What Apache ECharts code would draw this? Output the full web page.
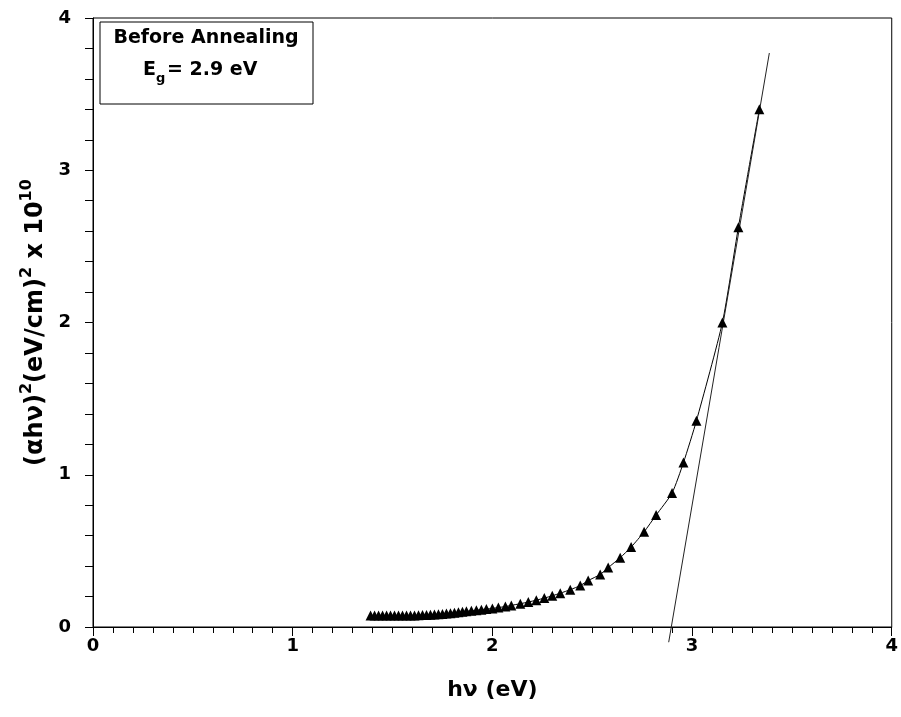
<!DOCTYPE html>
<html>
<head>
<meta charset="utf-8">
<script src="https://cdn.jsdelivr.net/npm/echarts@6/dist/echarts.min.js"></script>
<style>html,body{margin:0;padding:0;background:#fff}#c{width:901px;height:717px}</style>
</head>
<body>
<div id="c"></div>
<script>
// photon energy (eV)
var energy = [1.39,1.41,1.43,1.45,1.47,1.49,1.51,1.53,1.55,1.57,1.59,1.61,1.63,1.65,1.67,1.69,1.71,1.73,1.75,1.77,1.79,1.81,1.83,1.85,1.87,1.895,1.92,1.945,1.97,2.00,2.03,2.065,2.095,2.14,2.18,2.22,2.26,2.30,2.34,2.39,2.44,2.48,2.54,2.58,2.64,2.695,2.76,2.82,2.90,2.957,3.022,3.152,3.232,3.337];
// (alpha h nu)^2 x 1e-10
var absorb = [0.075,0.075,0.075,0.075,0.075,0.075,0.075,0.075,0.075,0.075,0.076,0.076,0.077,0.078,0.079,0.080,0.082,0.084,0.086,0.088,0.091,0.094,0.097,0.100,0.103,0.106,0.110,0.114,0.118,0.122,0.128,0.134,0.142,0.153,0.164,0.176,0.19,0.205,0.222,0.245,0.272,0.305,0.345,0.39,0.455,0.525,0.625,0.735,0.88,1.08,1.355,2.0,2.625,3.40];
// linear extrapolation (tangent) endpoints
var fitX = [2.883, 3.387];
var fitY = [-0.1, 3.77];
var xTicks = [0,1,2,3,4];
var yTicks = [0,1,2,3,4];

var chart = echarts.init(document.getElementById('c'));
var FONT = '"DejaVu Sans", "Liberation Sans", Arial, sans-serif';
var pts = energy.map(function(x,i){return [x, absorb[i]];});
var fit = fitX.map(function(x,i){return [x, fitY[i]];});

chart.setOption({
  animation: false,
  backgroundColor: '#fff',
  grid: {left: 93, right: 4, top: 18, bottom: 90, show: true, borderColor: '#000', borderWidth: 1},
  xAxis: {
    type: 'value', min: xTicks[0], max: xTicks[xTicks.length-1], interval: 1,
    name: 'hν (eV)', nameLocation: 'middle', nameGap: 52,
    nameTextStyle: {fontFamily: FONT, fontWeight: 'bold', fontSize: 22, color: '#000'},
    axisLine: {show: true, lineStyle: {color: '#000', width: 1}},
    axisTick: {show: true, inside: false, length: 9, lineStyle: {color: '#000'}},
    minorTick: {show: true, splitNumber: 10, length: 6, lineStyle: {color: '#000'}},
    splitLine: {show: false},
    axisLabel: {margin: 10, fontFamily: FONT, fontWeight: 'bold', fontSize: 18, color: '#000'}
  },
  yAxis: {
    type: 'value', min: yTicks[0], max: yTicks[yTicks.length-1], interval: 1,
    name: '{n|(αhν)}{s|2}{n|(eV/cm)}{s|2}{n| x 10}{s|10}',
    nameLocation: 'middle', nameGap: 40, nameRotate: 90,
    nameTextStyle: {
      fontFamily: FONT, fontWeight: 'bold', fontSize: 24, color: '#000',
      rich: {
        n: {fontFamily: FONT, fontWeight: 'bold', fontSize: 24, color: '#000', lineHeight: 29, verticalAlign: 'bottom'},
        s: {fontFamily: FONT, fontWeight: 'bold', fontSize: 16, color: '#000', lineHeight: 16, verticalAlign: 'top'}
      }
    },
    axisLine: {show: true, lineStyle: {color: '#000', width: 1}},
    axisTick: {show: true, inside: false, length: 8, lineStyle: {color: '#000'}},
    minorTick: {show: true, splitNumber: 5, length: 8, lineStyle: {color: '#000'}},
    splitLine: {show: false},
    axisLabel: {margin: 22, fontFamily: FONT, fontWeight: 'bold', fontSize: 18, color: '#000'}
  },
  series: [
    {
      type: 'line', data: pts, symbol: 'triangle', symbolSize: 10,
      itemStyle: {color: '#000'}, lineStyle: {color: '#000', width: 1}, smooth: 0.2
    },
    {
      type: 'line', data: fit, symbol: 'none', clip: false,
      lineStyle: {color: '#222', width: 1}
    }
  ],
  graphic: [
    {type: 'rect', shape: {x: 100, y: 22, width: 213, height: 82}, style: {fill: '#fff', stroke: '#000', lineWidth: 1}},
    {type: 'text', x: 206, y: 38, style: {text: 'Before Annealing', align: 'center', verticalAlign: 'middle', font: 'bold 19px "DejaVu Sans", sans-serif', fill: '#000'}},
    {type: 'text', x: 156, y: 70, style: {text: 'E', align: 'right', verticalAlign: 'middle', font: 'bold 19px "DejaVu Sans", sans-serif', fill: '#000'}},
    {type: 'text', x: 156, y: 79, style: {text: 'g', align: 'left', verticalAlign: 'middle', font: 'bold 13px "DejaVu Sans", sans-serif', fill: '#000'}},
    {type: 'text', x: 167, y: 70, style: {text: '= 2.9 eV', align: 'left', verticalAlign: 'middle', font: 'bold 19px "DejaVu Sans", sans-serif', fill: '#000'}}
  ]
});
</script>
</body>
</html>
